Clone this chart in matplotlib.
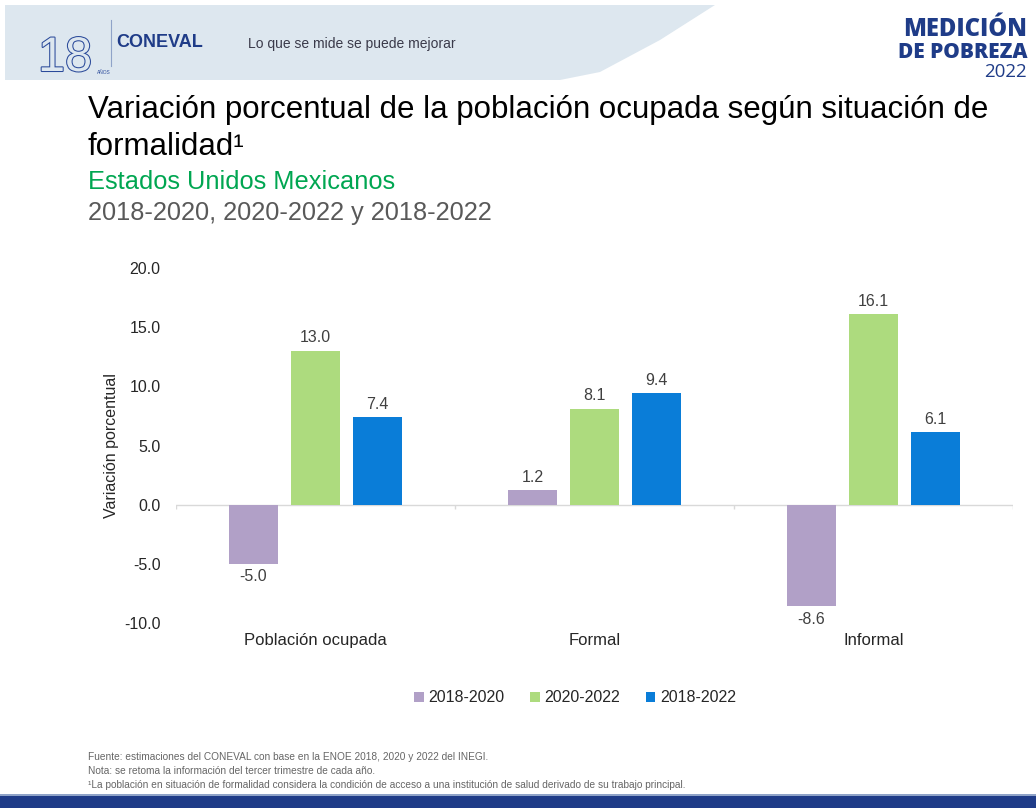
import numpy as np
import matplotlib
matplotlib.use('Agg')
import matplotlib.pyplot as plt
import matplotlib.patheffects as pe
from matplotlib.patches import Polygon, Rectangle

plt.rcParams['font.family'] = ['Liberation Sans', 'DejaVu Sans']

#Data
categorias = ['Población ocupada', 'Formal', 'Informal']
periodos = ['2018-2020', '2020-2022', '2018-2022']
v_2018_2020 = [-5.0, 1.2, -8.6]
v_2020_2022 = [13.0, 8.1, 16.1]
v_2018_2022 = [7.4, 9.4, 6.1]
colores = ['#B1A0C7', '#ADDB7E', '#0A7DD8']

fuente = ['Fuente: estimaciones del CONEVAL con base en la ENOE 2018, 2020 y 2022 del INEGI.',
          'Nota: se retoma la información del tercer trimestre de cada año.',
          '¹La población en situación de formalidad considera la condición de acceso a una institución de salud derivado de su trabajo principal.']

W, H = 1036, 808
fig = plt.figure(figsize=(W/100., H/100.), dpi=100)

def fx(px):
    return px/float(W)

def fy(py):
    return 1 - py/float(H)

AZUL = '#1F3C88'
BANDA = '#DDE7EF'

#header band
band = Polygon([[fx(5), fy(5)], [fx(715), fy(5)], [fx(660), fy(40)], [fx(600), fy(72)],
                [fx(560), fy(80)], [fx(5), fy(80)]], closed=True, transform=fig.transFigure,
               facecolor=BANDA, edgecolor='none')
fig.patches.append(band)
fig.text(fx(38), fy(71), '18', fontsize=35, color=BANDA,
         path_effects=[pe.withStroke(linewidth=1.5, foreground='#2A4A9A')])
fig.text(fx(97), fy(74), 'AÑOS', fontsize=3.5, color='#2A4A9A')
fig.add_artist(plt.Line2D([fx(111), fx(111)], [fy(20), fy(66)], color='#8FA3C8', lw=0.8))
fig.text(fx(116), fy(47), 'CONEVAL', fontsize=13, color=AZUL, fontweight='bold')
fig.text(fx(248), fy(48), 'Lo que se mide se puede mejorar', fontsize=10, color='#3A3A4A')
fig.text(fx(1027), fy(36), 'MEDICIÓN', fontsize=17, color=AZUL, fontweight='heavy',
         ha='right', family=['Open Sans', 'Liberation Sans'])
fig.text(fx(1027), fy(58), 'DE POBREZA', fontsize=15, color=AZUL, fontweight='heavy',
         ha='right', family=['Open Sans', 'Liberation Sans'])
fig.text(fx(1027), fy(77), '2022', fontsize=13.5, color=AZUL,
         ha='right', family=['Open Sans', 'Liberation Sans'])

#titles
fig.text(fx(88), fy(118), 'Variación porcentual de la población ocupada según situación de',
         fontsize=22.5, color='black')
fig.text(fx(88), fy(155), 'formalidad¹', fontsize=22.5, color='black')
fig.text(fx(88), fy(189), 'Estados Unidos Mexicanos', fontsize=18.3, color='#00A651')
fig.text(fx(88), fy(220), '2018-2020, 2020-2022 y 2018-2022', fontsize=18.3, color='#595959')

#chart
ax = fig.add_axes([fx(176), fy(623), fx(1013) - fx(176), fy(268) - fy(623)])
x = np.arange(len(categorias))
paso = 0.222
ancho = 0.176
series = [v_2018_2020, v_2020_2022, v_2018_2022]
for ii in range(3):
    b = ax.bar(x + (ii - 1)*paso, series[ii], width=ancho, color=colores[ii], label=periodos[ii], zorder=3)
    etiquetas = ['%.1f' % v for v in series[ii]]
    ax.bar_label(b, labels=etiquetas, padding=4, fontsize=11.5, color='#404040')

ax.set_xlim(-0.5, 2.5)
ax.set_ylim(-10, 20)
ax.set_yticks(np.arange(-10, 20.1, 5))
ax.set_yticklabels(['%.1f' % t for t in np.arange(-10, 20.1, 5)])
ax.set_xticks(x)
ax.set_xticklabels(categorias)
ax.tick_params(axis='y', length=0, pad=11, labelsize=11.5, labelcolor='#262626')
ax.tick_params(axis='x', length=0, pad=7, labelsize=12, labelcolor='#262626')
for s in ax.spines.values():
    s.set_visible(False)
ax.axhline(0, color='#D9D9D9', lw=1, zorder=2)
ax.vlines([-0.5, 0.5, 1.5, 2.5], -0.35, 0, color='#D9D9D9', lw=1, zorder=2)
ax.set_ylabel('Variación porcentual', fontsize=11.5, color='#262626')
ax.yaxis.set_label_coords(-0.068, 0.5)

leg = fig.legend(loc='center', bbox_to_anchor=(fx(575), fy(698)), ncol=3, frameon=False,
                 fontsize=11.5, handlelength=0.6, handleheight=0.6, handletextpad=0.3,
                 columnspacing=1.6)
for t in leg.get_texts():
    t.set_color('#262626')

#footnotes
for ii, linea in enumerate(fuente):
    fig.text(fx(88), fy(760 + ii*14), linea, fontsize=7.3, color='#666666')

fig.patches.append(Rectangle((0, 0), 1, fy(796), transform=fig.transFigure,
                             facecolor=AZUL, edgecolor='none'))
fig.patches.append(Rectangle((0, fy(796)), 1, fy(794) - fy(796), transform=fig.transFigure,
                             facecolor='#8FA3C8', edgecolor='none'))

fig.savefig('out.png', dpi=100)
